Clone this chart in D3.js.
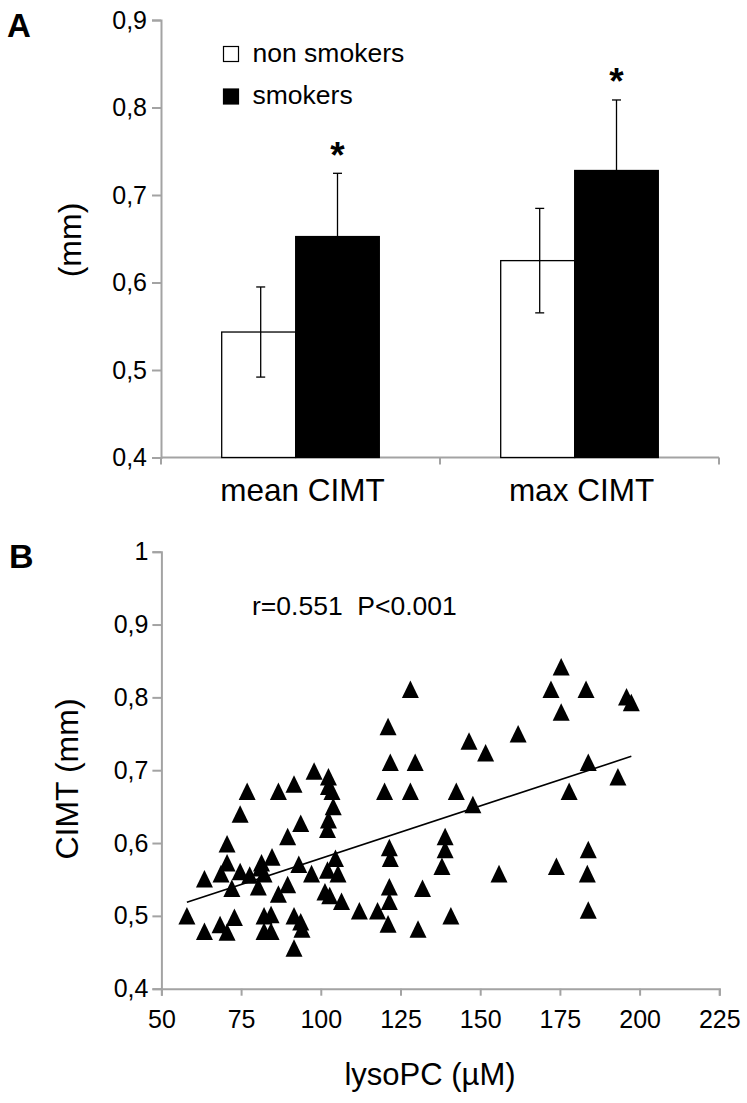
<!DOCTYPE html>
<html><head><meta charset="utf-8">
<script src="https://cdn.jsdelivr.net/npm/d3@7"></script>
<style>
html,body{margin:0;padding:0;background:#fff;}
text{font-family:"Liberation Sans",Arial,sans-serif;}
</style></head>
<body>
<svg id="chart" width="747" height="1103"></svg>
<script>
// ---------- Panel A data ----------
const categoriesA = ["mean CIMT", "max CIMT"];
const seriesA = ["non smokers", "smokers"];
const nonSmokers = [0.5434, 0.625];
const nonSmokersErr = [0.0515, 0.0597];
const smokers = [0.6525, 0.728];
const smokersErr = [0.0723, 0.0806];
const significant = [true, true];
const ticksA = [0.4, 0.5, 0.6, 0.7, 0.8, 0.9];

// ---------- Panel B data ----------
const lysoPC = [58,63.5,63.5,68.4,70.6,70.6,70.6,68.7,72.1,72.9,74.7,74.7,76.9,77.7,81.1,81.4,80.4,82.2,82.2,82.2,84.4,84.4,84.7,86.7,86.7,89.6,89.6,91.6,91.6,91.6,93.1,93.7,93.7,94.1,97.1,97.9,101.3,102.1,102.1,102.4,102.4,102.4,102.8,103.5,103.9,104.6,105.4,106.5,112.1,117.8,121.1,121.8,120,121.5,121.8,121.5,121.5,121.1,128.1,128.1,129.6,130.5,131.9,139,139,138,140.8,142.5,146.5,147.7,151.7,155.9,161.9,172.2,175.4,175.4,173.9,177.9,183.2,183.9,183.9,183.6,183.9,193.2,195.9,197.4];
const cimt = [0.500,0.551,0.479,0.488,0.478,0.599,0.573,0.558,0.538,0.498,0.640,0.561,0.671,0.556,0.566,0.573,0.540,0.558,0.500,0.479,0.502,0.479,0.581,0.530,0.671,0.543,0.609,0.681,0.500,0.456,0.571,0.627,0.492,0.482,0.558,0.699,0.533,0.563,0.619,0.691,0.678,0.632,0.528,0.671,0.650,0.579,0.558,0.520,0.507,0.507,0.760,0.711,0.671,0.594,0.579,0.540,0.520,0.489,0.811,0.671,0.711,0.482,0.538,0.609,0.591,0.568,0.500,0.671,0.740,0.653,0.724,0.558,0.750,0.811,0.842,0.780,0.568,0.671,0.811,0.711,0.591,0.558,0.508,0.691,0.801,0.793];
const trendX = [58, 197.4];
const trendY = [0.5186, 0.719];
const ticksBx = [50, 75, 100, 125, 150, 175, 200, 225];
const ticksBy = [0.4, 0.5, 0.6, 0.7, 0.8, 0.9, 1.0];
const statText = "r=0.551  P<0.001";

const svg = d3.select("#chart");
const axisColor = "#a3a3a3";
const axisW = 2;
const fmt = v => (v === 1 ? "1" : d3.format(".1f")(v).replace(".", ","));

function styleAxis(g, fs) {
  g.select(".domain").attr("stroke", axisColor).attr("stroke-width", axisW);
  g.selectAll(".tick line").attr("stroke", axisColor).attr("stroke-width", axisW);
  g.selectAll(".tick text").attr("font-size", fs).attr("fill", "#000")
    .attr("font-family", "Liberation Sans, Arial, sans-serif");
}

// ================= Panel A =================
const xA0 = d3.scaleBand().domain(categoriesA).range([161, 719]);
const xA1 = d3.scaleOrdinal().domain(seriesA).range([[-78.8, 74], [-4.8, 83.6]]);
const yA = d3.scaleLinear().domain([0.4, 0.9]).range([457.5, 20]);
const gA = svg.append("g");

const gyA = gA.append("g").attr("transform", "translate(161,0)")
  .call(d3.axisLeft(yA).tickValues(ticksA).tickFormat(fmt).tickSizeOuter(0).tickSize(9).tickPadding(5));
styleAxis(gyA, 25);

const gxA = gA.append("g").attr("transform", `translate(0,${yA(0.4)})`);
gxA.append("line").attr("x1", 161).attr("x2", 719).attr("stroke", axisColor).attr("stroke-width", axisW);
const bandEdges = [xA0(categoriesA[0]), xA0(categoriesA[1]), xA0(categoriesA[1]) + xA0.bandwidth()];
gxA.selectAll(".tk").data(bandEdges).enter().append("line")
  .attr("x1", d => d).attr("x2", d => d).attr("y1", 0).attr("y2", 7)
  .attr("stroke", axisColor).attr("stroke-width", axisW);
gxA.selectAll(".cl").data(categoriesA).enter().append("text")
  .attr("x", d => xA0(d) + xA0.bandwidth() / 2 + 2)
  .attr("y", 43.5).attr("text-anchor", "middle").attr("font-size", 31.5).text(d => d);

categoriesA.forEach((c, i) => {
  const cx = xA0(c) + xA0.bandwidth() / 2;
  const vals = [nonSmokers[i], smokers[i]];
  seriesA.forEach((s, j) => {
    const [off, w] = xA1(s);
    const v = vals[j];
    gA.append("rect").attr("x", cx + off).attr("y", yA(v))
      .attr("width", w).attr("height", yA(0.4) - yA(v))
      .attr("fill", j === 0 ? "#fff" : "#000").attr("stroke", "#000").attr("stroke-width", 1.3);
  });
  const [o1, w1] = xA1(seriesA[0]);
  const ex1 = cx + o1 + w1 / 2 + 2;
  const lo = nonSmokers[i] - nonSmokersErr[i], hi = nonSmokers[i] + nonSmokersErr[i];
  gA.append("line").attr("x1", ex1).attr("x2", ex1).attr("y1", yA(hi)).attr("y2", yA(lo))
    .attr("stroke", "#000").attr("stroke-width", 1.3);
  [hi, lo].forEach(v => {
    gA.append("line").attr("x1", ex1 - 4.5).attr("x2", ex1 + 4.5).attr("y1", yA(v)).attr("y2", yA(v))
      .attr("stroke", "#000").attr("stroke-width", 1.3);
  });
  const [o2, w2] = xA1(seriesA[1]);
  const ex2 = cx + o2 + w2 / 2;
  const hi2 = smokers[i] + smokersErr[i];
  gA.append("line").attr("x1", ex2).attr("x2", ex2).attr("y1", yA(hi2)).attr("y2", yA(smokers[i]))
    .attr("stroke", "#000").attr("stroke-width", 1.3);
  gA.append("line").attr("x1", ex2 - 4.5).attr("x2", ex2 + 4.5).attr("y1", yA(hi2)).attr("y2", yA(hi2))
    .attr("stroke", "#000").attr("stroke-width", 1.3);
  if (significant[i]) {
    gA.append("text").attr("x", ex2).attr("y", yA(hi2) - 5.5)
      .attr("text-anchor", "middle").attr("font-size", 37).attr("font-weight", "bold").text("*");
  }
});

// legend
seriesA.forEach((s, i) => {
  const ly = 46.5 + i * 42.5;
  gA.append("rect").attr("x", 223.5).attr("y", ly).attr("width", 15).attr("height", 15)
    .attr("fill", i === 0 ? "#fff" : "#000").attr("stroke", "#000").attr("stroke-width", 1.2);
  gA.append("text").attr("x", 252.5).attr("y", ly + 15.2).attr("font-size", 26.5).text(s);
});

gA.append("text").attr("transform", "translate(81,240) rotate(-90)")
  .attr("text-anchor", "middle").attr("font-size", 32).text("(mm)");

svg.append("text").attr("x", 7).attr("y", 37).attr("font-size", 33).attr("font-weight", "bold").text("A");

// ================= Panel B =================
const xB = d3.scaleLinear().domain([50, 225]).range([161.4, 719.3]);
const yB = d3.scaleLinear().domain([0.4, 1.0]).range([988.7, 551.7]);
const gB = svg.append("g");

const gyB = gB.append("g").attr("transform", "translate(161.4,0)")
  .call(d3.axisLeft(yB).tickValues(ticksBy).tickFormat(fmt).tickSizeOuter(0).tickSize(9).tickPadding(4));
styleAxis(gyB, 25);

const gxB = gB.append("g").attr("transform", `translate(0,${yB(0.4)})`)
  .call(d3.axisBottom(xB).tickValues(ticksBx).tickFormat(d3.format("d")).tickSizeOuter(0).tickSize(7).tickPadding(15));
styleAxis(gxB, 25);

gB.append("path").datum(trendX.map((x, i) => [x, trendY[i]]))
  .attr("d", d3.line().x(d => xB(d[0])).y(d => yB(d[1])))
  .attr("fill", "none").attr("stroke", "#000").attr("stroke-width", 1.6);

const triMarker = {
  draw(ctx, size) {
    const w = Math.sqrt(size), h = w * 1.03;
    ctx.moveTo(0, -h / 2);
    ctx.lineTo(w / 2, h / 2);
    ctx.lineTo(-w / 2, h / 2);
    ctx.closePath();
  }
};
const tri = d3.symbol().type(triMarker).size(289);
gB.selectAll(".pt").data(lysoPC.map((x, i) => [x, cimt[i]])).enter().append("path")
  .attr("d", tri).attr("transform", d => `translate(${xB(d[0])},${yB(d[1])})`)
  .attr("fill", "#000");

gB.append("text").attr("x", 252).attr("y", 615).attr("font-size", 26.5)
  .attr("xml:space", "preserve").style("white-space", "pre").text(statText);

gB.append("text").attr("transform", "translate(78,779) rotate(-90)")
  .attr("text-anchor", "middle").attr("font-size", 32).text("CIMT (mm)");
gB.append("text").attr("x", 430).attr("y", 1085).attr("text-anchor", "middle")
  .attr("font-size", 31).text("lysoPC (µM)");

svg.append("text").attr("x", 9).attr("y", 568).attr("font-size", 34).attr("font-weight", "bold").text("B");
</script>
</body></html>
